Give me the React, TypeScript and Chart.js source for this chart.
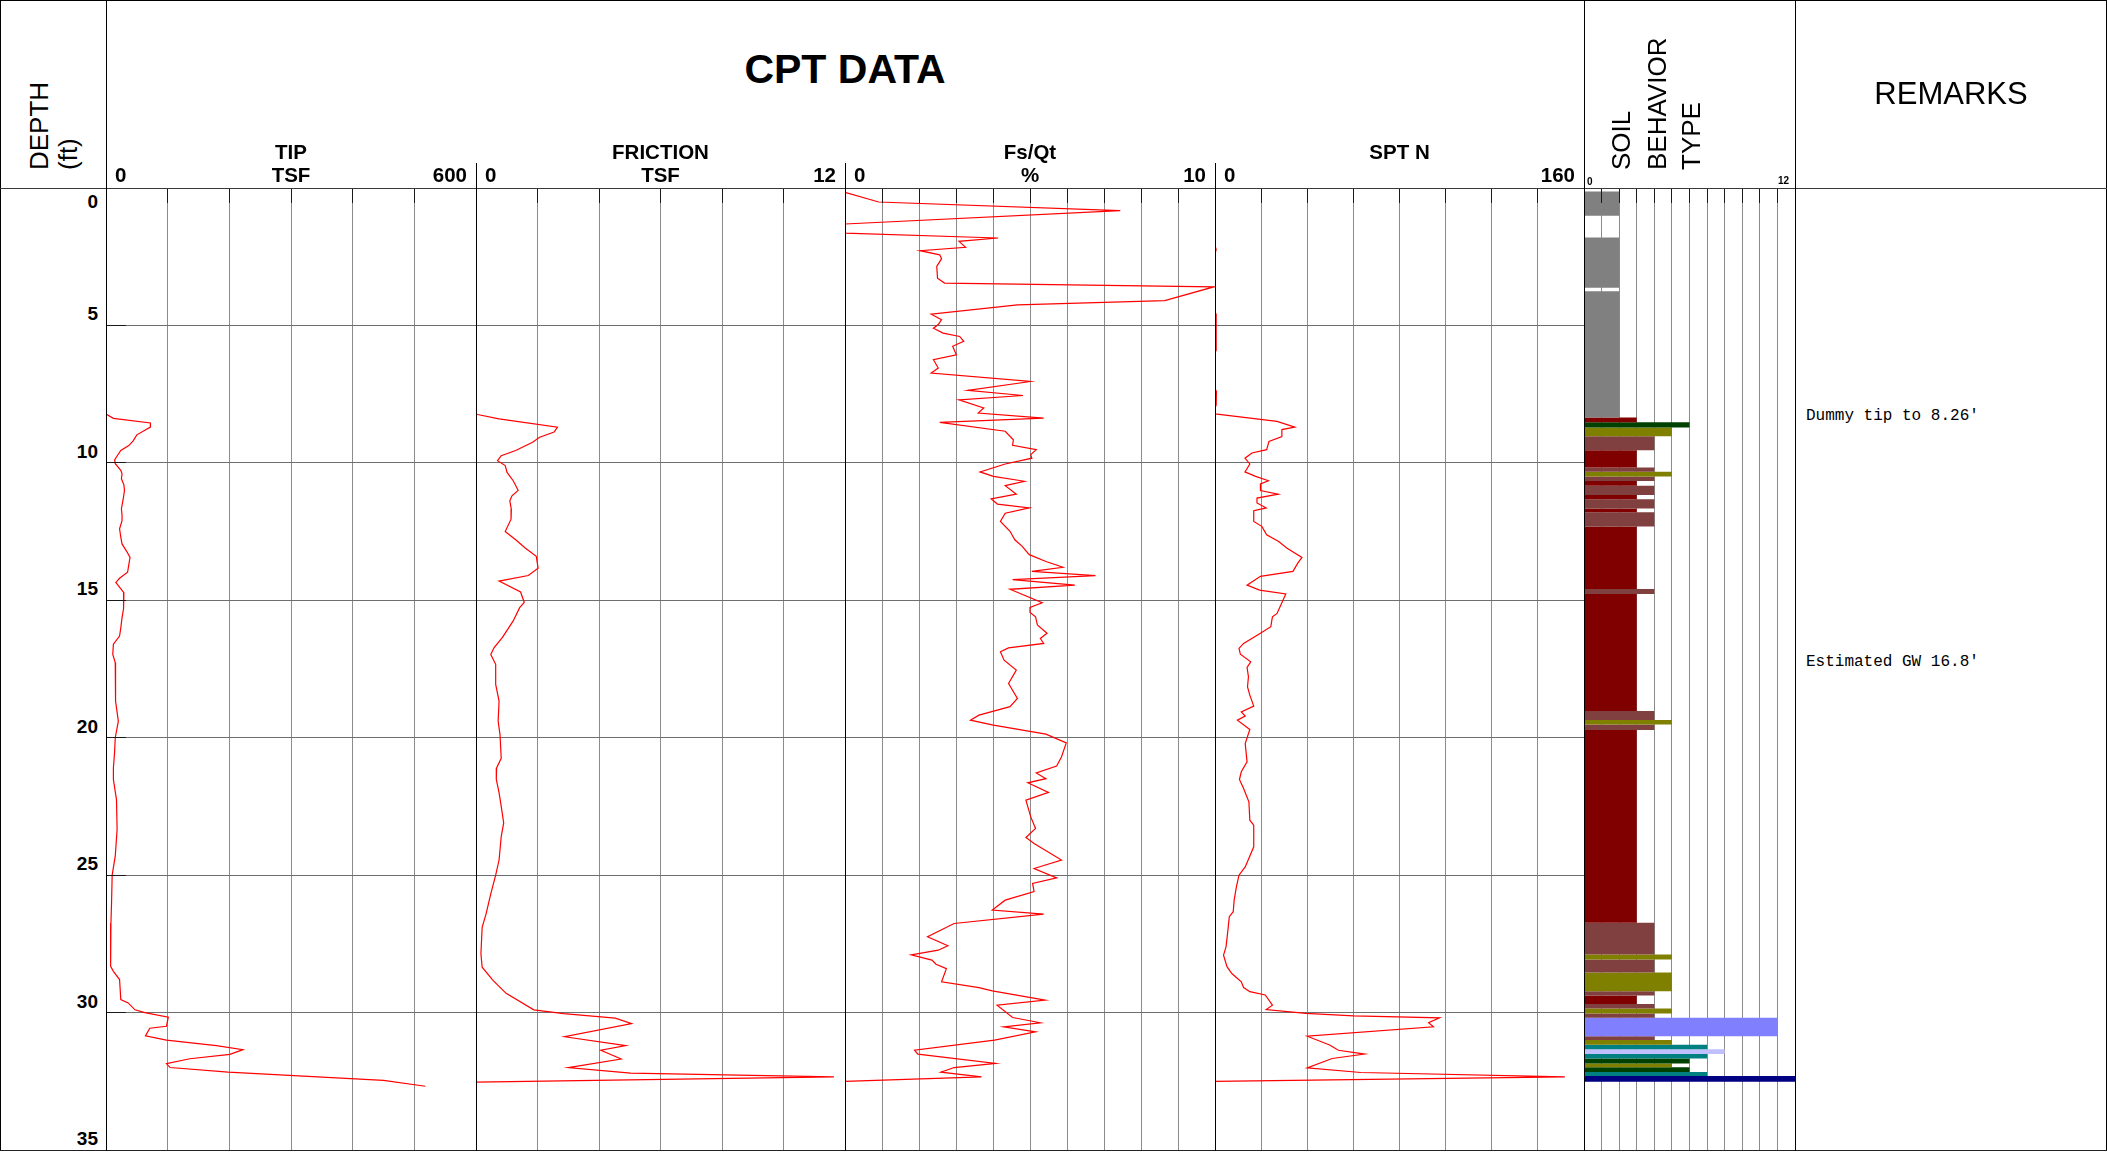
import React, { useEffect, useRef } from "react";
import { Chart, registerables } from "chart.js";

Chart.register(...registerables);

// ---------------- data ----------------
const DEPTH_TICKS = [0, 5, 10, 15, 20, 25, 30, 35];

const TIP_DEPTH = [0, 8.22, 8.38, 8.55, 8.7, 8.98, 9.2, 9.37, 9.55, 9.75, 9.89, 10.03, 10.27, 10.4, 10.58, 10.8, 11.0, 11.3, 11.67, 11.9, 12.1, 12.4, 12.7, 12.95, 13.2, 13.44, 13.7, 13.98, 14.2, 14.35, 14.47, 14.72, 15.03, 15.3, 15.63, 16.0, 16.3, 16.6, 16.97, 17.27, 18.0, 18.67, 19.4, 20.0, 20.5, 21.1, 21.52, 22.25, 23.34, 24.31, 25.0, 26.0, 26.75, 27.6, 28.32, 28.5, 28.8, 29.53, 29.65, 29.9, 30.0, 30.17, 30.5, 30.57, 30.85, 31.0, 31.2, 31.35, 31.52, 31.68, 31.86, 32.0, 32.17, 32.47, 32.68];
const TIP_TSF = [0, 0, 12, 72, 72, 50, 44, 37, 24, 18, 14, 15, 24, 26, 25, 29, 30, 28, 25, 26, 26, 22, 24, 26, 33, 39, 37, 35, 22, 16, 20, 29, 29, 28, 26, 24, 22, 12, 11, 15, 15, 16, 20, 15, 14, 12, 12, 17, 18, 15, 10, 9, 8, 7, 8, 12, 22, 24, 36, 47, 63, 101, 98, 71, 64, 98, 179, 222, 201, 136, 98, 104, 198, 450, 518];

const FRICTION_DEPTH = [0, 8.22, 8.24, 8.4, 8.7, 8.88, 9.07, 9.25, 9.55, 9.74, 9.92, 10.1, 10.35, 10.65, 11.0, 11.2, 11.38, 11.7, 12.05, 12.5, 12.8, 13.1, 13.4, 13.83, 14.1, 14.3, 14.7, 15.08, 15.27, 15.75, 16.35, 16.72, 16.97, 17.33, 18.06, 18.67, 19.4, 19.88, 20.75, 21.1, 21.52, 22.0, 22.5, 23.1, 23.6, 24.45, 25.0, 25.68, 26.4, 26.9, 27.86, 28.35, 28.84, 29.3, 29.9, 30.04, 30.2, 30.4, 30.88, 31.2, 31.37, 31.69, 32.0, 32.2, 32.34, 32.53];
const FRICTION_TSF = [0, 0, 0.05, 0.75, 2.65, 2.54, 2.07, 1.84, 1.29, 0.82, 0.7, 0.95, 1.01, 1.21, 1.37, 1.17, 1.1, 1.15, 1.14, 0.95, 1.29, 1.6, 1.96, 2.02, 1.7, 0.75, 1.45, 1.57, 1.42, 1.21, 0.86, 0.59, 0.48, 0.64, 0.64, 0.75, 0.72, 0.78, 0.82, 0.67, 0.66, 0.75, 0.82, 0.9, 0.82, 0.75, 0.64, 0.48, 0.33, 0.2, 0.16, 0.2, 0.56, 0.98, 1.88, 2.85, 4.53, 5.06, 2.88, 4.87, 4.06, 4.72, 3.0, 5.03, 11.64, 0];

const FSQT_DEPTH = [0.16, 0.51, 0.82, 1.31, 1.64, 1.82, 1.94, 2.16, 2.28, 2.43, 2.57, 2.85, 3.28, 3.46, 3.6, 4.1, 4.25, 4.59, 4.79, 4.97, 5.1, 5.28, 5.4, 5.58, 5.76, 6.07, 6.25, 6.55, 6.73, 7.04, 7.36, 7.55, 7.71, 8.0, 8.19, 8.37, 8.53, 8.85, 9.16, 9.36, 9.52, 9.7, 9.83, 10.04, 10.33, 10.49, 10.67, 10.83, 11.14, 11.31, 11.5, 11.64, 11.83, 12.13, 12.49, 12.8, 13.04, 13.34, 13.59, 13.8, 13.95, 14.1, 14.25, 14.45, 14.6, 15.09, 15.26, 15.44, 15.6, 15.9, 16.2, 16.39, 16.57, 16.73, 16.87, 17.18, 17.54, 18.03, 18.57, 18.87, 19.18, 19.36, 19.54, 19.87, 20.19, 20.7, 21.03, 21.28, 21.49, 21.64, 21.99, 22.27, 22.88, 23.3, 23.63, 23.85, 24.45, 24.76, 25.1, 25.3, 25.6, 25.91, 26.27, 26.42, 26.76, 27.24, 27.57, 27.73, 27.9, 28.09, 28.24, 28.4, 28.88, 29.09, 29.21, 29.55, 29.73, 30.18, 30.37, 30.52, 30.7, 31.0, 31.37, 31.51, 31.85, 32.0, 32.17, 32.34, 32.5];
const FSQT_PCT = [0, 0.91, 7.44, 0, 0, 4.14, 3.08, 3.26, 2.03, 2.56, 2.61, 2.48, 2.5, 2.69, 9.96, 8.64, 4.66, 2.33, 2.61, 2.52, 2.39, 2.65, 3.1, 3.21, 2.91, 3.01, 2.39, 2.52, 2.33, 5.01, 3.32, 4.81, 3.08, 3.75, 3.6, 5.37, 2.56, 4.33, 4.55, 4.53, 5.17, 5.02, 5.05, 4.33, 3.65, 4.01, 4.85, 4.33, 4.63, 3.95, 4.12, 4.98, 4.33, 4.2, 4.46, 4.59, 4.79, 4.98, 5.43, 5.89, 5.05, 6.77, 4.53, 6.21, 4.46, 5.33, 5.0, 5.0, 5.15, 5.2, 5.46, 5.28, 5.37, 4.42, 4.2, 4.3, 4.63, 4.42, 4.66, 4.46, 3.62, 3.39, 4.01, 5.43, 5.98, 5.85, 5.72, 5.17, 5.43, 4.94, 5.5, 4.89, 5.02, 5.15, 4.89, 5.11, 5.85, 5.11, 5.72, 5.07, 5.11, 4.33, 3.98, 5.37, 2.95, 2.23, 2.78, 2.52, 1.79, 2.35, 2.46, 2.74, 2.61, 3.62, 3.98, 5.41, 4.11, 4.53, 5.28, 4.29, 5.15, 4.04, 1.88, 1.97, 4.07, 2.95, 2.59, 3.69, 0];

const SPT_DEPTH = [0, 2.1, 2.24, 2.4, 4.5, 4.6, 5.9, 6.0, 7.3, 7.4, 7.9, 8.0, 8.22, 8.49, 8.7, 8.79, 9.04, 9.22, 9.52, 9.64, 9.83, 10.04, 10.33, 10.49, 10.65, 10.77, 11.01, 11.14, 11.28, 11.46, 11.64, 11.74, 12.13, 12.31, 12.62, 12.86, 13.1, 13.44, 13.65, 13.95, 14.13, 14.45, 14.63, 14.77, 15.48, 15.6, 15.96, 16.2, 16.57, 16.75, 16.96, 17.24, 17.44, 17.78, 18.15, 18.45, 18.85, 19.06, 19.21, 19.36, 19.7, 20.21, 20.88, 21.24, 21.52, 21.85, 22.33, 23.0, 23.18, 23.97, 24.7, 25.0, 25.42, 25.91, 26.33, 26.51, 27.0, 27.6, 27.91, 28.33, 28.58, 28.88, 29.09, 29.24, 29.36, 29.73, 29.89, 30.03, 30.12, 30.19, 30.37, 30.52, 30.86, 31.18, 31.37, 31.51, 31.67, 32.01, 32.18, 32.34, 32.5];
const SPT_N = [0, 0, 0.5, 0, 0, 0.5, 0.5, 0, 0, 0.6, 0.5, 0, 0, 26.9, 34.6, 29, 29, 23.4, 22.4, 16, 13, 15.1, 13, 17.6, 23.2, 19.7, 19.7, 27.4, 18.2, 18.2, 22.2, 16.8, 16.8, 20.3, 22.4, 27.6, 31.1, 37.7, 35.9, 33.8, 19.7, 13.9, 19.3, 30.7, 26.9, 24.9, 24.2, 19.7, 12.4, 10.4, 11.0, 15.5, 13.9, 14.5, 14.1, 15.1, 16.8, 11.4, 13.1, 9.7, 15.1, 13.1, 13.9, 11.4, 10.6, 12.4, 14.7, 15.1, 16.8, 16.8, 13.1, 10.4, 9.3, 8.3, 7.9, 6.2, 5.6, 4.8, 3.7, 5.2, 7.3, 11.4, 12.4, 15.1, 21.8, 24.9, 22.2, 39.4, 60.1, 97.4, 92.6, 94.7, 40.0, 49.7, 53.5, 64.9, 50.8, 40.0, 63.2, 151.7, 0];

const SBT_TOP = [0.13, 1.8, 3.76, 8.35, 8.52, 8.71, 9.03, 9.54, 10.17, 10.32, 10.5, 10.66, 10.83, 11.17, 11.32, 11.66, 11.8, 12.32, 14.59, 14.77, 19.03, 19.36, 19.52, 19.72, 26.73, 27.89, 28.07, 28.54, 29.22, 29.38, 29.69, 29.85, 30.03, 30.19, 30.86, 31.0, 31.17, 31.33, 31.51, 31.67, 31.85, 31.99, 32.16, 32.31];
const SBT_BOTTOM = [1.01, 3.63, 8.35, 8.52, 8.71, 9.03, 9.54, 10.17, 10.32, 10.5, 10.66, 10.83, 11.17, 11.32, 11.66, 11.8, 12.32, 14.59, 14.77, 19.03, 19.36, 19.52, 19.72, 26.73, 27.89, 28.07, 28.54, 29.22, 29.38, 29.69, 29.85, 30.03, 30.19, 30.86, 31.0, 31.17, 31.33, 31.51, 31.67, 31.85, 31.99, 32.16, 32.31, 32.52];
const SBT_ZONE = [2, 2, 2, 3, 6, 5, 4, 3, 4, 5, 4, 3, 4, 3, 4, 3, 4, 3, 4, 3, 4, 5, 4, 3, 4, 5, 4, 5, 4, 3, 4, 5, 4, 11, 4, 5, 7, 8, 7, 6, 5, 6, 7, 12];

const TRACK_TITLES = ["TIP", "FRICTION", "Fs/Qt", "SPT N"];
const TRACK_UNITS = ["TSF", "TSF", "%", ""];
const TRACK_MAX = [600, 12, 10, 160];
const TRACK_STEP = [100, 2, 1, 20];
const SBT_MAX = 12;
const SBT_STEP = 1;
const REMARK_TEXTS = ["Dummy tip to 8.26'", "Estimated GW 16.8'"];

// ---------------- styling / layout ----------------
const ZONE_COLORS: Record<number, string> = {
  1: "#ff0000",
  2: "#808080",
  3: "#800000",
  4: "#804040",
  5: "#808000",
  6: "#004000",
  7: "#008080",
  8: "#c0c0ff",
  9: "#ffff00",
  10: "#ff8000",
  11: "#8080ff",
  12: "#000080",
};

const PAGE_W = 2107;
const PAGE_H = 1152;
const PLOT_TOP = 188;
const PLOT_H = 962;
const DEPTH_MAX = 35;
const TRACK_LEFT = [106, 476, 845, 1215];
const TRACK_W = [370, 369, 370, 369];
const SBT_LEFT = 1584;
const SBT_W = 211;
const REMARK_LEFT = 1795;
const SANS = "'Liberation Sans', Arial, Helvetica, sans-serif";
const MONO = "'Liberation Mono', 'Courier New', monospace";

const yOf = (d: number) => PLOT_TOP + (d * PLOT_H) / DEPTH_MAX;

const marksPlugin = {
  id: "marks",
  afterDatasetsDraw(chart: any, _args: any, opts: any) {
    const { ctx, chartArea, scales } = chart;
    const xs = scales.x;
    const ys = scales.y;
    ctx.save();
    ctx.strokeStyle = "#1a1a1a";
    ctx.lineWidth = 1;
    ctx.beginPath();
    for (const t of xs.ticks) {
      const px = Math.round(xs.getPixelForValue(t.value) - 0.5) + 0.5;
      ctx.moveTo(px, chartArea.top);
      ctx.lineTo(px, chartArea.top + (opts.topLen || 0));
    }
    if (opts.depthLen) {
      for (const t of ys.ticks) {
        const py = Math.round(ys.getPixelForValue(t.value) - 0.5) + 0.5;
        ctx.moveTo(chartArea.left, py);
        ctx.lineTo(chartArea.left + opts.depthLen, py);
      }
    }
    ctx.stroke();
    ctx.restore();
  },
};

function makeScales(max: number, step: number, depthGrid: boolean, gridOnTop: boolean) {
  return {
    x: {
      type: "linear",
      position: "top",
      min: 0,
      max,
      z: gridOnTop ? 1 : 0,
      ticks: { display: false, stepSize: step, maxTicksLimit: 100 },
      grid: {
        color: (c: any) => (c.tick && c.tick.value === 0 ? "#000000" : "#8c8c8c"),
        lineWidth: 1,
        drawTicks: false,
      },
      border: { display: false },
    },
    y: {
      type: "linear",
      reverse: true,
      min: 0,
      max: DEPTH_MAX,
      ticks: { display: false, stepSize: 5, maxTicksLimit: 100 },
      grid: { display: depthGrid, color: "#6e6e6e", lineWidth: 1, drawTicks: false },
      border: { display: false },
    },
  };
}

function baseOptions(max: number, step: number, depthGrid: boolean, gridOnTop: boolean, depthLen: number) {
  return {
    responsive: false,
    maintainAspectRatio: false,
    animation: false,
    events: [],
    layout: { padding: 0 },
    plugins: {
      legend: { display: false },
      tooltip: { enabled: false },
      marks: { topLen: 15, depthLen },
    },
    scales: makeScales(max, step, depthGrid, gridOnTop),
  };
}

function curveConfig(depths: number[], values: number[], max: number, step: number, depthLen: number) {
  return {
    type: "scatter",
    data: {
      datasets: [
        {
          data: depths.map((d, i) => ({ x: values[i], y: d })),
          showLine: true,
          borderColor: "#ff0000",
          borderWidth: 1.2,
          pointRadius: 0,
          fill: false,
          tension: 0,
        },
      ],
    },
    options: baseOptions(max, step, true, false, depthLen),
    plugins: [marksPlugin],
  };
}

function sbtConfig() {
  return {
    type: "scatter",
    data: {
      datasets: SBT_TOP.map((top, i) => ({
        data: [
          { x: 0, y: top },
          { x: SBT_ZONE[i], y: top },
          { x: SBT_ZONE[i], y: SBT_BOTTOM[i] },
          { x: 0, y: SBT_BOTTOM[i] },
        ],
        showLine: true,
        fill: "shape",
        backgroundColor: ZONE_COLORS[SBT_ZONE[i]],
        borderColor: "rgba(0,0,0,0)",
        borderWidth: 0,
        pointRadius: 0,
      })),
    },
    options: baseOptions(SBT_MAX, SBT_STEP, false, true, 0),
    plugins: [marksPlugin],
  };
}

function TrackCanvas({ left, width, make }: { left: number; width: number; make: () => any }) {
  const ref = useRef<HTMLCanvasElement | null>(null);
  useEffect(() => {
    if (!ref.current) return;
    const chart = new Chart(ref.current, make() as any);
    return () => chart.destroy();
  }, []);
  return (
    <canvas
      ref={ref}
      width={width}
      height={PLOT_H}
      style={{ position: "absolute", left, top: PLOT_TOP, width, height: PLOT_H, display: "block" }}
    />
  );
}

function Rule({ x, y, w, h, c = "#000" }: { x: number; y: number; w: number; h: number; c?: string }) {
  return <div style={{ position: "absolute", left: x, top: y, width: w, height: h, background: c }} />;
}

function Txt({
  x,
  y,
  align = "center",
  font,
  lh,
  children,
}: {
  x: number;
  y: number;
  align?: "left" | "center" | "right";
  font: string;
  lh: number;
  children: React.ReactNode;
}) {
  const box = 500;
  const left = align === "left" ? x : align === "center" ? x - box / 2 : x - box;
  return (
    <div
      style={{
        position: "absolute",
        left,
        top: y - lh / 2,
        width: box,
        height: lh,
        lineHeight: `${lh}px`,
        textAlign: align,
        font,
        whiteSpace: "nowrap",
        color: "#000",
      }}
    >
      {children}
    </div>
  );
}

function VText({ cx, bottom, font, lh, children }: { cx: number; bottom: number; font: string; lh: number; children: React.ReactNode }) {
  return (
    <div
      style={{
        position: "absolute",
        left: cx - lh / 2,
        top: bottom,
        height: lh,
        lineHeight: `${lh}px`,
        font,
        whiteSpace: "nowrap",
        transform: "rotate(-90deg)",
        transformOrigin: "0 0",
        color: "#000",
      }}
    >
      {children}
    </div>
  );
}

export default function App() {
  const trackBold = `bold 20.5px ${SANS}`;
  return (
    <div
      style={{
        position: "fixed",
        left: 0,
        top: 0,
        width: PAGE_W,
        height: PAGE_H,
        background: "#fff",
        overflow: "hidden",
      }}
    >
      {/* charts */}
      <TrackCanvas left={TRACK_LEFT[0]} width={TRACK_W[0]} make={() => curveConfig(TIP_DEPTH, TIP_TSF, TRACK_MAX[0], TRACK_STEP[0], 20)} />
      <TrackCanvas left={TRACK_LEFT[1]} width={TRACK_W[1]} make={() => curveConfig(FRICTION_DEPTH, FRICTION_TSF, TRACK_MAX[1], TRACK_STEP[1], 0)} />
      <TrackCanvas left={TRACK_LEFT[2]} width={TRACK_W[2]} make={() => curveConfig(FSQT_DEPTH, FSQT_PCT, TRACK_MAX[2], TRACK_STEP[2], 0)} />
      <TrackCanvas left={TRACK_LEFT[3]} width={TRACK_W[3]} make={() => curveConfig(SPT_DEPTH, SPT_N, TRACK_MAX[3], TRACK_STEP[3], 0)} />
      <TrackCanvas left={SBT_LEFT} width={SBT_W} make={sbtConfig} />

      {/* frame (drawn over the plot edges) */}
      <Rule x={0} y={0} w={PAGE_W} h={1} />
      <Rule x={0} y={0} w={1} h={1151} />
      <Rule x={PAGE_W - 1} y={0} w={1} h={1151} />
      <Rule x={0} y={1150} w={PAGE_W} h={1} c="#222" />
      <Rule x={0} y={PLOT_TOP} w={PAGE_W} h={1} c="#3a3a3a" />
      <Rule x={TRACK_LEFT[0]} y={0} w={1} h={1151} />
      <Rule x={SBT_LEFT} y={0} w={1} h={1151} />
      <Rule x={REMARK_LEFT} y={0} w={1} h={1151} />
      {TRACK_LEFT.slice(1).map((l) => (
        <Rule key={l} x={l} y={163} w={1} h={988} />
      ))}

      {/* header texts */}
      <Txt x={845} y={70} font={`bold 41px ${SANS}`} lh={48}>
        CPT DATA
      </Txt>
      <VText cx={39} bottom={170} font={`26px ${SANS}`} lh={30}>
        DEPTH
      </VText>
      <VText cx={68} bottom={170} font={`26px ${SANS}`} lh={30}>
        (ft)
      </VText>
      {TRACK_TITLES.map((t, i) => {
        const l = TRACK_LEFT[i];
        const w = TRACK_W[i];
        return (
          <React.Fragment key={t}>
            <Txt x={l + w / 2} y={152} font={trackBold} lh={24}>
              {t}
            </Txt>
            {TRACK_UNITS[i] ? (
              <Txt x={l + w / 2} y={175} font={trackBold} lh={24}>
                {TRACK_UNITS[i]}
              </Txt>
            ) : null}
            <Txt x={l + 9} y={175} align="left" font={trackBold} lh={24}>
              0
            </Txt>
            <Txt x={l + w - 9} y={175} align="right" font={trackBold} lh={24}>
              {String(TRACK_MAX[i])}
            </Txt>
          </React.Fragment>
        );
      })}
      <VText cx={1621} bottom={170} font={`26px ${SANS}`} lh={30}>
        SOIL
      </VText>
      <VText cx={1657} bottom={170} font={`26px ${SANS}`} lh={30}>
        BEHAVIOR
      </VText>
      <VText cx={1691} bottom={170} font={`26px ${SANS}`} lh={30}>
        TYPE
      </VText>
      <Txt x={SBT_LEFT + 3} y={182} align="left" font={`bold 10px ${SANS}`} lh={12}>
        0
      </Txt>
      <Txt x={SBT_LEFT + SBT_W - 6} y={181} align="right" font={`bold 10px ${SANS}`} lh={12}>
        {String(SBT_MAX)}
      </Txt>
      <Txt x={1951} y={94} font={`31px ${SANS}`} lh={36}>
        REMARKS
      </Txt>

      {/* depth labels */}
      {DEPTH_TICKS.map((d) => (
        <Txt key={d} x={98} y={d === 0 ? yOf(d) + 14 : yOf(d) - 11} align="right" font={`bold 19px ${SANS}`} lh={22}>
          {String(d)}
        </Txt>
      ))}

      {/* remarks */}
      <Txt x={1806} y={416.5} align="left" font={`16px ${MONO}`} lh={20}>
        {REMARK_TEXTS[0]}
      </Txt>
      <Txt x={1806} y={663} align="left" font={`16px ${MONO}`} lh={20}>
        {REMARK_TEXTS[1]}
      </Txt>
    </div>
  );
}
